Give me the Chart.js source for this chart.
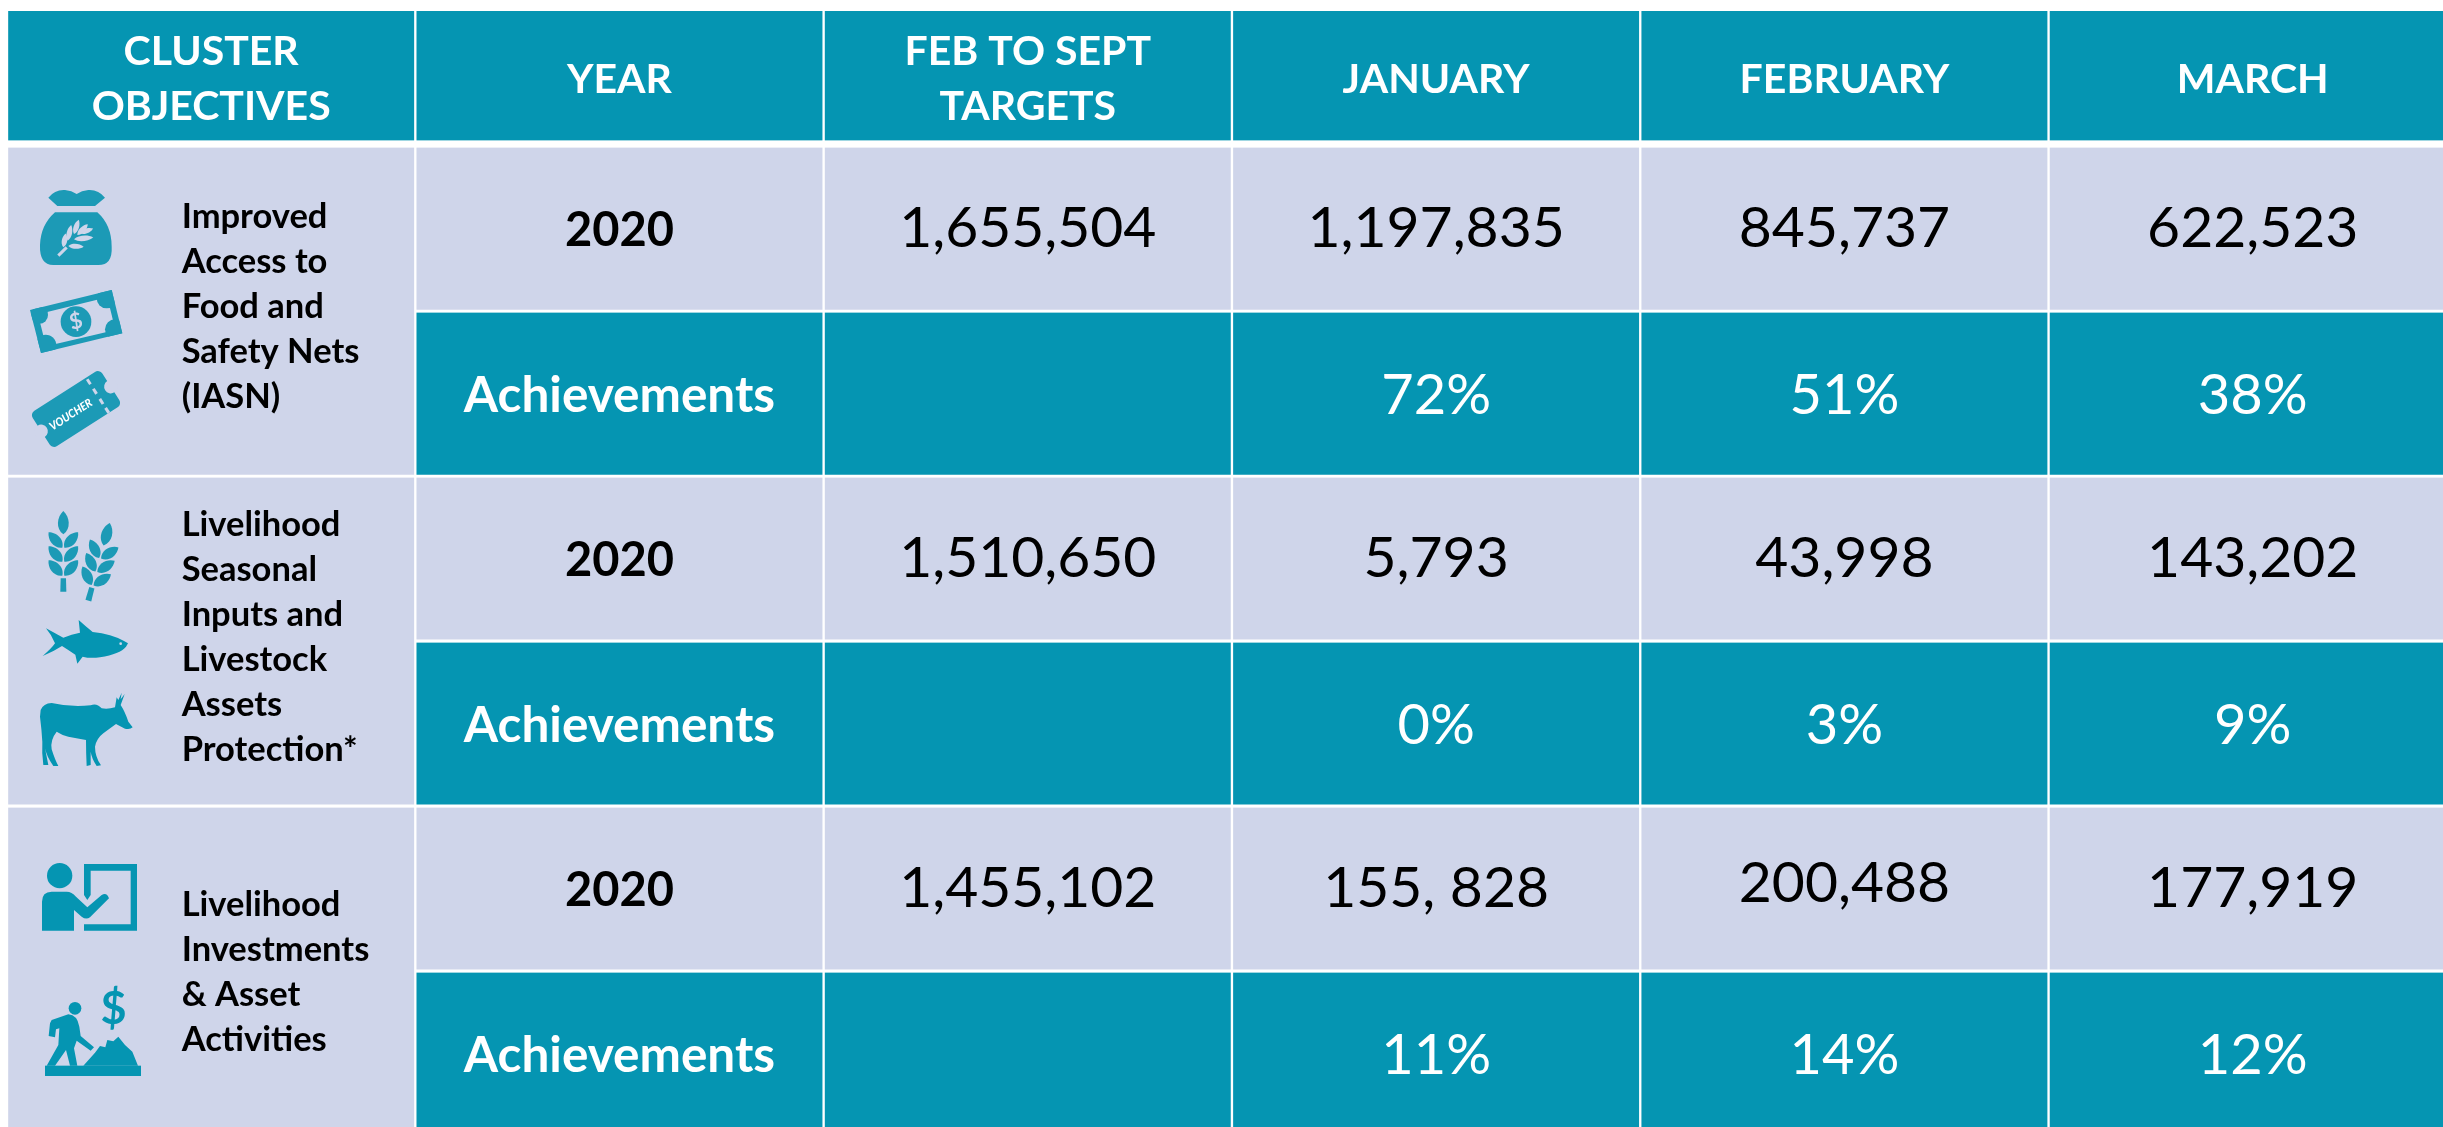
<!DOCTYPE html>
<html>
<head>
<meta charset="utf-8">
<title>Cluster objectives</title>
<script src="https://cdn.jsdelivr.net/npm/chart.js@4"></script>
<style>
  html, body { margin: 0; padding: 0; background: #fff; overflow: hidden; }
  #wrap { width: 2443px; height: 1127px; }
</style>
</head>
<body>
<div id="wrap"><canvas id="chart"></canvas></div>
<script>
// table content
const columnTitles = [['CLUSTER', 'OBJECTIVES'], ['YEAR'], ['FEB TO SEPT', 'TARGETS'], ['JANUARY'], ['FEBRUARY'], ['MARCH']];
const clusters = [
  ['Improved', 'Access to', 'Food and', 'Safety Nets', '(IASN)'],
  ['Livelihood', 'Seasonal', 'Inputs and', 'Livestock', 'Assets', 'Protection*'],
  ['Livelihood', 'Investments', '& Asset', 'Activities']
];
const years = ['2020', '2020', '2020'];
const rowLabel = 'Achievements';
const targets = ['1,655,504', '1,510,650', '1,455,102'];
const january = ['1,197,835', '5,793', '155, 828'];
const february = ['845,737', '43,998', '200,488'];
const march = ['622,523', '143,202', '177,919'];
const januaryPct = ['72%', '0%', '11%'];
const februaryPct = ['51%', '3%', '14%'];
const marchPct = ['38%', '9%', '12%'];

// layout, in row units (one body row = 1)
const headerHeight = 0.785;
const bodyStart = 0.828;
const rowGap = 0.018;
const columnPitch = 408.3;
const clusterShift = [-4, -4, 1];

const TEAL = '#0595B2';
const TEAL_SOFT = '#1C9AB6';
const LILAC = '#CFD5EA';
const FONT = 'Lato, sans-serif';

const rowTop = i => bodyStart + i;
const span = (top, height) => [top, top + height - rowGap];

const styles = {
  header: { font: `700 41px ${FONT}`, color: '#fff', lineHeight: 55, dy: 4 },
  year: { font: `700 47px ${FONT}`, color: '#000', dy: 2 },
  value: { font: `400 57px ${FONT}`, color: '#000', dy: 0 },
  label: { font: `700 49.5px ${FONT}`, color: '#fff', dy: 2 },
  pct: { font: `400 56px ${FONT}`, color: '#fff', dy: 2 },
  cluster: { font: `700 34.5px ${FONT}`, color: '#000', lineHeight: 45 }
};

const datasets = [];

datasets.push({
  backgroundColor: TEAL,
  data: columnTitles.map((lines, col) => ({ x: col, y: [0, headerHeight], text: lines, style: 'header' }))
});

clusters.forEach((lines, i) => {
  const top = rowTop(i * 2);
  const valueRow = [years[i], targets[i], january[i], february[i], march[i]];
  const pctRow = [rowLabel, '', januaryPct[i], februaryPct[i], marchPct[i]];
  datasets.push({
    backgroundColor: LILAC,
    data: [{ x: 0, y: span(top, 2), lines, shift: clusterShift[i], style: 'cluster' }].concat(
      valueRow.map((v, k) => ({ x: k + 1, y: span(top, 1), text: [v], style: k === 0 ? 'year' : 'value' })))
  });
  datasets.push({
    backgroundColor: TEAL,
    data: pctRow.map((v, k) => ({ x: k + 1, y: span(top + 1, 1), text: [v], style: k === 0 ? 'label' : 'pct' }))
  });
});

// leaf with pointed ends, (x,y) is its base, drawn along angle a
function leaf(ctx, x, y, len, wid, a) {
  ctx.save();
  ctx.translate(x, y);
  ctx.rotate(a);
  ctx.beginPath();
  ctx.moveTo(0, 0);
  ctx.bezierCurveTo(len * 0.25, -wid, len * 0.75, -wid * 0.8, len, 0);
  ctx.bezierCurveTo(len * 0.75, wid * 0.8, len * 0.25, wid, 0, 0);
  ctx.fill();
  ctx.restore();
}

function poly(ctx, pts) {
  ctx.beginPath();
  pts.forEach((p, i) => i ? ctx.lineTo(p[0], p[1]) : ctx.moveTo(p[0], p[1]));
  ctx.closePath();
  ctx.fill();
}

function circle(ctx, x, y, r) {
  ctx.beginPath();
  ctx.arc(x, y, r, 0, Math.PI * 2);
  ctx.fill();
}

function drawBag(ctx) {
  ctx.fillStyle = TEAL_SOFT;
  ctx.fill(new Path2D('M145,83 Q165,58 195,60 Q215,62 230,72 Q245,62 265,60 Q295,58 315,83 L285,108 L172,108 Z'));
  ctx.fill(new Path2D('M165,127 L292,127 Q335,165 335,230 Q338,285 295,285 L160,285 Q118,285 120,225 Q122,165 165,127 Z'));
  ctx.fillStyle = LILAC;
  ctx.strokeStyle = LILAC;
  ctx.lineWidth = 9;
  ctx.beginPath();
  ctx.moveTo(175, 257);
  ctx.lineTo(200, 232);
  ctx.stroke();
  leaf(ctx, 232, 195, 45, 12, -0.8);
  leaf(ctx, 222, 192, 45, 12, -1.25);
  leaf(ctx, 240, 190, 42, 11, -0.35);
  leaf(ctx, 203, 212, 48, 12, -1.35);
  leaf(ctx, 222, 208, 58, 12, -0.1);
  leaf(ctx, 190, 232, 42, 12, -1.4);
  leaf(ctx, 205, 228, 46, 11, 0.05);
}

function drawNote(ctx) {
  ctx.fillStyle = TEAL_SOFT;
  poly(ctx, [[90, 420], [335, 360], [367, 490], [123, 549]]);
  ctx.fillStyle = LILAC;
  poly(ctx, [[114, 433], [322, 382], [346, 480], [138, 529]]);
  ctx.fillStyle = TEAL_SOFT;
  ctx.save();
  ctx.beginPath();
  ctx.moveTo(90, 420); ctx.lineTo(335, 360); ctx.lineTo(367, 490); ctx.lineTo(123, 549);
  ctx.closePath();
  ctx.clip();
  circle(ctx, 118, 435, 26);
  circle(ctx, 320, 385, 30);
  circle(ctx, 345, 478, 30);
  circle(ctx, 137, 526, 32);
  ctx.restore();
  circle(ctx, 228, 455, 46);
  ctx.save();
  ctx.translate(228, 455);
  ctx.rotate(-0.24);
  ctx.fillStyle = LILAC;
  ctx.font = `700 66px ${FONT}`;
  ctx.textAlign = 'center';
  ctx.textBaseline = 'middle';
  ctx.fillText('$', 0, 0);
  ctx.restore();
}

function drawVoucher(ctx) {
  ctx.save();
  ctx.translate(228, 717);
  ctx.rotate(-0.57);
  ctx.fillStyle = TEAL_SOFT;
  ctx.beginPath();
  ctx.roundRect(-124, -63, 248, 126, 16);
  ctx.fill();
  // notches on the short sides
  ctx.fillStyle = LILAC;
  circle(ctx, -124, 0, 20);
  circle(ctx, 124, 0, 20);
  // perforation
  [-48, -14, 22, 54].forEach(v => ctx.fillRect(72, v - 9, 9, 18));
  ctx.fillStyle = '#fff';
  ctx.font = `italic 900 34px ${FONT}`;
  ctx.textAlign = 'center';
  ctx.textBaseline = 'middle';
  ctx.fillText('VOUCHER', -22, 6, 145);
  ctx.restore();
}

function drawStalk(ctx, x, y, a) {
  ctx.save();
  ctx.translate(x, y);
  ctx.rotate(a);
  ctx.fillStyle = TEAL_SOFT;
  poly(ctx, [[-9, 0], [9, 0], [8, -40], [-8, -40]]);
  [-48, -90, -132].forEach(v => {
    leaf(ctx, -3, v, 62, 22, -2.3);
    leaf(ctx, 3, v, 62, 22, -0.84);
  });
  leaf(ctx, 0, -172, 70, 24, -Math.PI / 2);
  ctx.restore();
}

function drawFish(ctx) {
  ctx.fillStyle = TEAL;
  ctx.fill(new Path2D('M128,558 Q155,535 165,520 Q155,495 138,475 Q165,490 190,503 Q215,492 240,488 L236,450 Q258,470 278,486 Q335,492 372,513 L384,520 L378,530 Q360,552 300,562 Q270,566 248,560 L232,581 L226,554 Q205,540 186,528 Q160,545 128,558 Z'));
  ctx.fillStyle = LILAC;
  circle(ctx, 362, 521, 4);
}

function drawCow(ctx) {
  ctx.fillStyle = TEAL;
  ctx.fill(new Path2D('M122,720 Q130,700 155,699 Q210,712 272,706 Q290,698 305,715 Q325,718 345,712 L350,682 L355,690 L365,668 L362,688 L374,672 L362,705 Q375,725 385,755 L398,772 Q390,780 375,776 L348,762 Q330,775 310,790 Q290,805 285,830 Q285,860 303,886 L290,888 Q275,865 272,845 L272,885 L260,888 Q258,850 258,810 Q235,805 205,800 Q185,795 170,785 Q150,810 155,838 Q165,870 175,888 L160,888 Q140,860 135,835 L145,885 L130,885 Q125,850 127,815 Q125,780 120,740 Z'));
}

function drawTeacher(ctx) {
  ctx.fillStyle = TEAL;
  circle(ctx, 179, 227, 38);
  ctx.fill(new Path2D('M126,392 L126,305 Q126,275 155,275 L200,275 Q215,275 228,290 L262,322 L305,285 Q320,275 327,295 L270,352 Q258,360 245,350 L222,330 L222,392 Z'));
  poly(ctx, [[252, 192], [411, 192], [411, 392], [252, 392], [252, 373], [392, 373], [392, 212], [272, 212], [272, 285], [262, 300], [252, 285]]);
}

function drawDigger(ctx) {
  ctx.fillStyle = TEAL;
  ctx.fillRect(135, 797, 288, 31);
  circle(ctx, 225, 625, 19);
  // person
  ctx.fill(new Path2D('M155,660 L205,643 Q232,645 238,680 L242,708 L282,742 L272,752 L230,722 L222,745 L232,797 L210,797 L198,750 L165,797 L140,797 L175,735 L178,685 L168,688 L165,712 L146,708 L150,670 Z'));
  // mound
  ctx.fill(new Path2D('M250,797 L285,758 L300,738 L316,742 L322,720 L340,724 L355,710 L375,735 L397,755 L414,797 Z'));
  ctx.font = `700 135px ${FONT}`;
  ctx.textAlign = 'center';
  ctx.textBaseline = 'middle';
  ctx.fillText('$', 341, 628);
}

const tablePlugin = {
  id: 'tableText',
  afterDatasetsDraw(chart) {
    const ctx = chart.ctx;
    chart.data.datasets.forEach((ds, d) => {
      chart.getDatasetMeta(d).data.forEach((bar, i) => {
        const cell = ds.data[i];
        const style = styles[cell.style];
        const midY = (bar.y + bar.base) / 2;
        ctx.save();
        ctx.font = style.font;
        ctx.fillStyle = style.color;
        ctx.textBaseline = 'middle';
        if (cell.lines) {
          // objective text sits left aligned in the merged cell
          ctx.textAlign = 'left';
          const y0 = midY - (cell.lines.length - 1) * style.lineHeight / 2;
          cell.lines.forEach((t, k) => ctx.fillText(t, bar.x - 29.5, y0 + k * style.lineHeight + cell.shift));
        } else {
          ctx.textAlign = 'center';
          const lh = style.lineHeight || 0;
          const y0 = midY - (cell.text.length - 1) * lh / 2 + style.dy;
          const nudge = cell.text[0] === '200,488' ? -5 : 0;
          cell.text.forEach((t, k) => ctx.fillText(t, bar.x, y0 + k * lh + nudge));
        }
        ctx.restore();
      });
    });

    // pictograms, traced in the 3x space of their cell
    const px = chart.scales.x.getPixelForValue(-0.5) - 7;
    const py = chart.scales.y.getPixelForValue(0) - 11;
    const group = (dx, dy, fn) => {
      ctx.save();
      ctx.translate(px + dx, py + dy);
      ctx.scale(1 / 3, 1 / 3);
      fn(ctx);
      ctx.restore();
    };
    group(0, 170, drawBag);
    group(0, 170, drawNote);
    group(0, 170, drawVoucher);
    group(0, 470, c => { drawStalk(c, 190, 365, 0); drawStalk(c, 265, 392, 0.27); });
    group(0, 470, drawFish);
    group(0, 470, drawCow);
    group(0, 800, drawTeacher);
    group(0, 800, drawDigger);
  }
};

new Chart(document.getElementById('chart'), {
  type: 'bar',
  data: { datasets },
  plugins: [tablePlugin],
  options: {
    responsive: true,
    maintainAspectRatio: false,
    animation: false,
    layout: { padding: { top: 11, left: 7, right: 0, bottom: 0 } },
    plugins: { legend: { display: false }, tooltip: { enabled: false }, title: { display: false } },
    datasets: {
      bar: {
        grouped: false,
        barThickness: columnPitch,
        borderColor: '#fff',
        borderWidth: { left: 1.5, right: 1.5, top: 0, bottom: 0 },
        borderSkipped: false
      }
    },
    scales: {
      x: { type: 'linear', display: false, offset: false, min: -0.5, max: 5.466 },
      y: { type: 'linear', display: false, reverse: true, min: 0, max: 6.764 }
    }
  }
});
</script>
</body>
</html>
